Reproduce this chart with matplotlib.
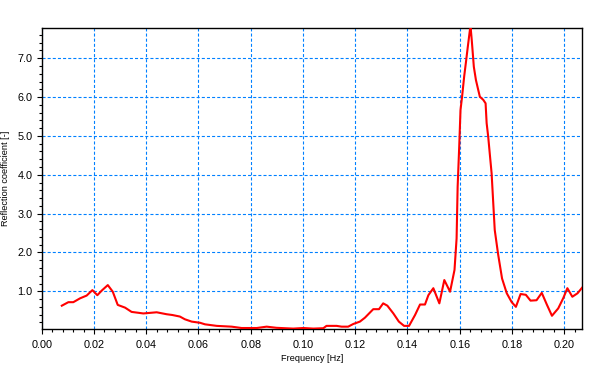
import matplotlib
matplotlib.use("Agg")
import matplotlib.pyplot as plt
from matplotlib.ticker import MultipleLocator, FormatStrFormatter

plt.rcParams['font.family'] = ['Liberation Sans', 'DejaVu Sans']
plt.rcParams['lines.scale_dashes'] = False

freq = [0.0077, 0.0102, 0.0121, 0.0147, 0.0172, 0.0194, 0.0213, 0.0230, 0.0253,
        0.0272, 0.0291, 0.0319, 0.0344, 0.0389, 0.0440, 0.0478, 0.0500, 0.0529,
        0.0548, 0.0574, 0.0606, 0.0625, 0.0670, 0.0727, 0.0765, 0.0823, 0.0861,
        0.0899, 0.0963, 0.1001, 0.1040, 0.1078, 0.1090, 0.1129, 0.1148, 0.1173,
        0.1193, 0.1218, 0.1237, 0.1269, 0.1291, 0.1307, 0.1323, 0.1346, 0.1367,
        0.1387, 0.1406, 0.1429, 0.1448, 0.1467, 0.1480, 0.1499, 0.1522, 0.1541,
        0.1563, 0.1580, 0.1588, 0.1592, 0.1598, 0.1603, 0.1609, 0.1617, 0.1624,
        0.1631, 0.1639, 0.1642, 0.1646, 0.1654, 0.1662, 0.1671, 0.1677, 0.1690,
        0.1699, 0.1703, 0.1709, 0.1716, 0.1722, 0.1734, 0.1747, 0.1762, 0.1780,
        0.1799, 0.1815, 0.1833, 0.1853, 0.1871, 0.1894, 0.1914, 0.1934, 0.1953,
        0.1977, 0.1996, 0.2012, 0.2031, 0.2051, 0.2068]
refl = [0.63, 0.72, 0.72, 0.82, 0.89, 1.03, 0.90, 1.02, 1.16,
        0.99, 0.65, 0.58, 0.47, 0.43, 0.46, 0.41, 0.39, 0.35,
        0.28, 0.22, 0.19, 0.15, 0.11, 0.09, 0.055, 0.055, 0.09,
        0.06, 0.04, 0.055, 0.04, 0.05, 0.11, 0.11, 0.09, 0.09,
        0.16, 0.22, 0.32, 0.54, 0.54, 0.69, 0.63, 0.43, 0.22,
        0.11, 0.11, 0.39, 0.66, 0.66, 0.90, 1.08, 0.69, 1.29,
        0.99, 1.55, 2.36, 3.69, 4.72, 5.67, 6.01, 6.53, 6.91,
        7.30, 7.73, 7.77, 7.47, 6.78, 6.44, 6.18, 6.01, 5.93,
        5.84, 5.33, 4.98, 4.47, 4.04, 2.58, 1.95, 1.33, 0.95,
        0.72, 0.60, 0.93, 0.91, 0.76, 0.77, 0.96, 0.65, 0.37,
        0.56, 0.82, 1.08, 0.86, 0.95, 1.09]

fig = plt.figure(figsize=(6.0, 3.73), dpi=100)
ax = fig.add_axes([0.0695, 0.118, 0.9005, 0.806])

ax.plot(freq, refl, color='#ff0000', linewidth=1.5, zorder=3)

ax.set_xlim(0, 0.2068)
ax.set_ylim(0.03, 7.77)
ax.xaxis.set_major_locator(MultipleLocator(0.02))
ax.xaxis.set_minor_locator(MultipleLocator(0.004))
ax.yaxis.set_major_locator(MultipleLocator(1.0))
ax.yaxis.set_minor_locator(MultipleLocator(0.2))
ax.xaxis.set_major_formatter(FormatStrFormatter('%.2f'))
ax.yaxis.set_major_formatter(FormatStrFormatter('%.1f'))

ax.tick_params(which='major', length=3.6, width=0.8, labelsize=7.8, direction='out')
ax.tick_params(axis='y', which='major', pad=3)
ax.tick_params(axis='x', which='major', pad=4)
ax.tick_params(which='minor', length=2.2, width=0.8, direction='out')

ax.grid(True, which='major', color='#0080ff', linewidth=0.8, linestyle=(0, (2.2, 1.5)))
ax.set_axisbelow(True)

for s in ax.spines.values():
    s.set_linewidth(1.0)
    s.set_color('black')

ax.set_xlabel('Frequency [Hz]', fontsize=6.6, labelpad=3)
ax.set_ylabel('Reflection coefficient [-]', fontsize=6.6, labelpad=5)

fig.savefig('out.png', dpi=100)
